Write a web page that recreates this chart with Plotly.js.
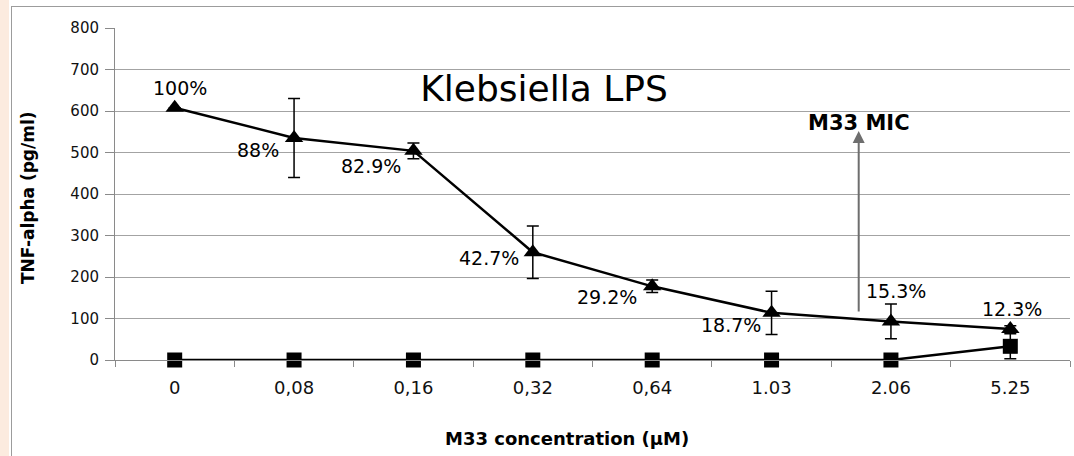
<!DOCTYPE html>
<html>
<head>
<meta charset="utf-8">
<script src="https://cdn.plot.ly/plotly-3.0.1.min.js"></script>
<style>
  html, body { margin: 0; padding: 0; background: #ffffff; overflow: hidden; }
  #wrap { position: relative; width: 1074px; height: 456px; }
  #chart { position: absolute; left: 0; top: 0; width: 1074px; height: 456px; }
  /* peach strip along the left edge and the outer chart frame */
  #strip { position: absolute; left: 0; top: 0; width: 9px; height: 456px; background: #fcebdf; pointer-events: none; }
  #frame { position: absolute; left: 11px; top: 6px; width: 1063px; height: 450px;
           border-left: 1px solid #9c9c9c; border-top: 1px solid #9c9c9c; box-sizing: border-box; pointer-events: none; }
</style>
</head>
<body>
<div id="wrap">
  <div id="chart"></div>
  <div id="strip"></div>
  <div id="frame"></div>
</div>
<script>
// M33 concentrations (category axis labels)
const categories = ['0', '0,08', '0,16', '0,32', '0,64', '1.03', '2.06', '5.25'];

// TNF-alpha (pg/ml) after Klebsiella LPS stimulation, with SD
const lpsValues = [608, 535, 504, 259.6, 177.5, 113.7, 93, 74.8];
const lpsErrors = [0, 95, 19, 63, 15, 52, 42, 8];
const lpsPercent = ['100%', '88%', '82.9%', '42.7%', '29.2%', '18.7%', '15.3%', '12.3%'];

// TNF-alpha (pg/ml) with M33 alone (no LPS), with SD
const controlValues = [0, 0, 0, 0, 0, 0, 0, 33];
const controlErrors = [0, 0, 0, 0, 0, 0, 0, 30];

// MIC marker: position between the 1.03 and 2.06 categories, arrow from / to (pg/ml)
const micPosition = 5.73;
const micArrowFrom = 113;
const micArrowTo = 552;

const yTickValues = [0, 100, 200, 300, 400, 500, 600, 700, 800];

// ---- layout helpers ----
const W = 1074, H = 456;
const M = { l: 115, r: 4, t: 28, b: 96 };
const plotW = W - M.l - M.r, plotH = H - M.t - M.b;
const px = x => (x - M.l) / plotW;          // pixel x -> paper x
const py = y => (H - M.b - y) / plotH;      // pixel y -> paper y

const FONT = 'DejaVu Sans, Arial, sans-serif';

// pixel offsets of the percentage labels relative to their points
const labelOffsets = [
  [5, 20], [-36, -12], [-42, -15], [-44, -6],
  [-45, -11], [-41, -12], [5, 30], [2, 20]
];

const control = {
  type: 'scatter',
  x: categories,
  y: controlValues,
  mode: 'lines+markers',
  line: { color: '#000000', width: 2.5 },
  marker: { symbol: 'square', size: 15, color: '#000000' },
  error_y: { type: 'data', array: controlErrors, visible: true, color: '#000000', thickness: 1.5, width: 6 },
  cliponaxis: false,
  showlegend: false,
  hoverinfo: 'skip'
};

const lps = {
  type: 'scatter',
  x: categories,
  y: lpsValues,
  mode: 'lines+markers',
  line: { color: '#000000', width: 2.5 },
  marker: { symbol: 'triangle-up', size: 16, color: '#000000' },
  error_y: { type: 'data', array: lpsErrors, visible: true, color: '#000000', thickness: 1.5, width: 6 },
  cliponaxis: false,
  showlegend: false,
  hoverinfo: 'skip'
};

// annotation x on a category axis is given as the category index
const percentLabels = categories.map((c, i) => ({
  x: i, y: lpsValues[i], xref: 'x', yref: 'y',
  text: lpsPercent[i], showarrow: false,
  xshift: labelOffsets[i][0], yshift: labelOffsets[i][1],
  xanchor: 'center', yanchor: 'middle',
  font: { family: FONT, size: 19, color: '#000000' }
}));

const annotations = percentLabels.concat([
  {
    // MIC arrow
    x: micPosition, y: micArrowTo, ax: micPosition, ay: micArrowFrom,
    xref: 'x', yref: 'y', axref: 'x', ayref: 'y',
    text: '', showarrow: true, arrowhead: 2, arrowsize: 1.2,
    arrowwidth: 2, arrowcolor: '#6e6e6e', standoff: 0, startstandoff: 0
  },
  {
    x: micPosition, y: micArrowTo + 20, xref: 'x', yref: 'y',
    text: 'M33 MIC', showarrow: false, xanchor: 'center', yanchor: 'middle',
    font: { family: FONT, size: 21, color: '#000000', weight: 'bold' }
  },
  {
    x: px(567), y: py(438), xref: 'paper', yref: 'paper',
    text: 'M33 concentration (μM)', showarrow: false,
    xanchor: 'center', yanchor: 'middle',
    font: { family: FONT, size: 18, color: '#000000', weight: 'bold' }
  },
  {
    x: px(28), y: py(198), xref: 'paper', yref: 'paper',
    text: 'TNF-alpha (pg/ml)', showarrow: false, textangle: -90,
    xanchor: 'center', yanchor: 'middle',
    font: { family: FONT, size: 17, color: '#000000', weight: 'bold' }
  }
]);

const layout = {
  width: W, height: H,
  margin: M,
  paper_bgcolor: '#ffffff',
  plot_bgcolor: '#ffffff',
  showlegend: false,
  font: { family: FONT, color: '#111111' },
  title: {
    text: 'Klebsiella LPS',
    xref: 'paper', yref: 'paper',
    x: px(544), y: py(88), xanchor: 'center', yanchor: 'middle',
    font: { family: FONT, size: 36, color: '#000000' }
  },
  xaxis: {
    type: 'category',
    range: [-0.5, categories.length - 0.5],
    tickson: 'boundaries',
    ticks: 'outside', ticklen: 6, tickwidth: 1, tickcolor: '#8a8a8a',
    ticklabelstandoff: 11,
    showline: true, linecolor: '#8a8a8a', linewidth: 1,
    showgrid: false, zeroline: false,
    tickfont: { family: FONT, size: 18, color: '#111111' },
    fixedrange: true
  },
  yaxis: {
    range: [0, 800],
    tickvals: yTickValues,
    ticks: 'outside', ticklen: 9, tickwidth: 1, tickcolor: '#8a8a8a',
    ticklabelstandoff: 3,
    showline: true, linecolor: '#8a8a8a', linewidth: 1,
    showgrid: true, gridcolor: '#a3a3a3', gridwidth: 1,
    zeroline: false,
    tickfont: { family: FONT, size: 15, color: '#111111' },
    fixedrange: true
  },
  annotations: annotations
};

Plotly.newPlot('chart', [control, lps], layout, { displayModeBar: false, staticPlot: true });
</script>
</body>
</html>
